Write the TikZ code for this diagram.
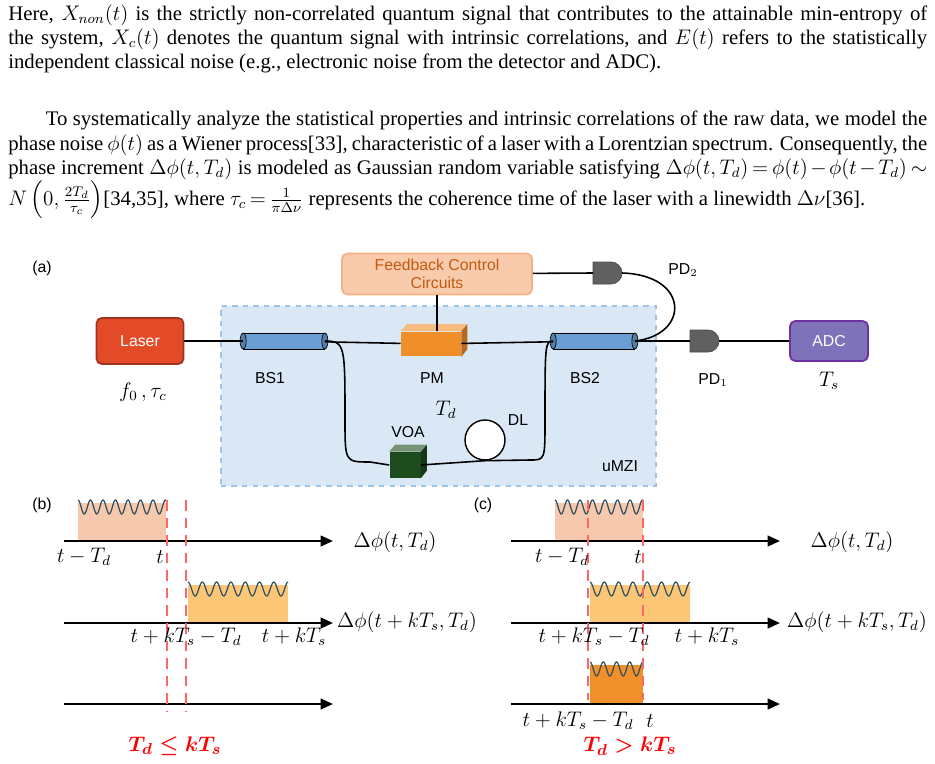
\documentclass[tikz,border=0pt]{standalone}
\usepackage{amsmath}
\usepackage{fontspec}
\setmainfont{Liberation Serif}
\newfontfamily\sansf{Liberation Sans}
\usetikzlibrary{positioning,arrows.meta}
\definecolor{fbfill}{HTML}{F8CBAD}
\definecolor{fbdraw}{HTML}{F4B183}
\definecolor{fbtext}{HTML}{C55A11}
\definecolor{mzifill}{HTML}{DAE8F5}
\definecolor{mzidraw}{HTML}{9DC3E6}
\definecolor{laserred}{HTML}{E24A28}
\definecolor{bsblue}{HTML}{6A9ED3}
\definecolor{pmorange}{HTML}{F08E2A}
\definecolor{voagreen}{HTML}{1D4B1D}
\definecolor{adcfill}{HTML}{7E72BA}
\definecolor{adcdraw}{HTML}{7030A0}
\definecolor{boxlight}{HTML}{F6C8AE}
\definecolor{boxmid}{HTML}{FBC676}
\definecolor{boxdark}{HTML}{F0902A}
\definecolor{wavec}{HTML}{2F4F5F}
\newcommand\nohyph{\hyphenpenalty=10000\relax\exhyphenpenalty=10000\relax
  \thickmuskip=3mu plus 2mu\relax\medmuskip=2mu plus 1mu\relax}
% detector: flat left, round right
\newcommand\detector[3]{%
  \coordinate (#1) at (#2,#3);
  \draw[fill=gray!75!black,draw=black!70] (#2-18,#3-11) -- (#2,#3-11)
    arc[start angle=-90,end angle=90,radius=11] -- (#2-18,#3+11) -- cycle;}
% beam splitter cylinder
\newcommand\splitter[3]{%
  \node[bs] (#1) at (#2,#3) {};
  \draw[fill=bsblue!80!black] (#1.west) ellipse [x radius=0.06cm, y radius=0.16cm];
  \draw[fill=bsblue!80!black] (#1.east) ellipse [x radius=0.06cm, y radius=0.16cm];}
% cuboid with top and side faces
\newcommand\cuboid[4]{%
  \fill[#4!60!white] (#1.north west) -- ++(6,-7) -- ++(\pgfkeysvalueof{/tikz/cubew},0) -- (#1.north east) -- cycle;
  \fill[#4!75!black] (#1.north east) -- ++(6,-7) -- ++(0,\pgfkeysvalueof{/tikz/cubeh}) -- (#1.south east) -- cycle;}
\pgfkeyssetvalue{/tikz/cubew}{0}
\pgfkeyssetvalue{/tikz/cubeh}{0}
\newcommand\wave[4]{\draw[wavy] plot[domain=#1:#2,samples=120] (\x,{#3+7-7*cos(360/#4*(\x-#1))});}
\begin{document}
\begin{tikzpicture}[x=0.02cm,y=-0.02cm,
    lbl/.style={font=\sansf\fontsize{9}{10}\selectfont},
    para/.style={anchor=north west,inner sep=0pt,text width=18.38cm,align=justify,
      font=\fontsize{11.8}{13.7}\selectfont},
    fiber/.style={line width=0.9pt},
    bs/.style={draw,fill=bsblue,minimum width=1.62cm,minimum height=0.32cm,inner sep=0pt},
    axis/.style={line width=1.3pt,-{Triangle[length=7pt,width=6pt]}},
    cut/.style={red!60,dashed,line width=1pt,dash pattern=on 6pt off 4pt},
    wavy/.style={wavec,line width=0.7pt},
    mathl/.style={font=\fontsize{11.5}{13}\selectfont},
    cond/.style={text=red,font=\bfseries\fontsize{13}{14}\selectfont}]
  \useasboundingbox (0,0) rectangle (935,763);
  % text above the figure
  \node[para] (par1) at (8,4) {\nohyph Here, $X_{non}(t)$ is the strictly non-correlated quantum signal that contributes to the attainable min-entropy of the system, $X_c(t)$ denotes the quantum signal with intrinsic correlations, and $E(t)$ refers to the statistically independent classical noise (e.g., electronic noise from the detector and ADC).};
  \node[para] (par2) at (8,111) {\nohyph\hspace*{0.75cm}To systematically analyze the statistical properties and intrinsic correlations of the raw data, we model the phase noise $\phi(t)$ as a Wiener process[33], characteristic of a laser with a Lorentzian spectrum. Consequently, the phase increment $\Delta\phi(t,T_d)$ is modeled as Gaussian random variable satisfying $\Delta\phi(t,T_d)=\phi(t)-\phi(t-T_d)\sim N\left(0,\frac{2T_d}{\tau_c}\right)$[34,35], where $\tau_c=\frac{1}{\pi\Delta\nu}$ represents the coherence time of the laser with a linewidth $\Delta\nu$[36].};
  % (a) setup
  \node[lbl] (la) at (42,268) {(a)};
  \node[draw=mzidraw,fill=mzifill,dashed,line width=1pt,minimum width=8.7cm,minimum height=3.6cm,anchor=north west] (mzi) at (220,305) {};
  \node[lbl] (umzi) at (620,466) {uMZI};
  \node[draw=fbdraw,fill=fbfill,line width=1pt,rounded corners=3pt,text=fbtext,lbl,align=center,minimum width=3.8cm,minimum height=0.76cm] (fb) at (437,274) {Feedback Control\\Circuits};
  \node[draw=laserred!70!black,fill=laserred,rounded corners=3pt,line width=1pt,text=white,lbl,minimum width=1.74cm,minimum height=0.92cm] (laser) at (140,341) {Laser};
  \node[draw=adcdraw,fill=adcfill,rounded corners=3pt,line width=1pt,text=white,lbl,minimum width=1.56cm,minimum height=0.8cm] (adc) at (829,341) {ADC};
  \splitter{bs1}{284}{341}
  \splitter{bs2}{594}{341}
  \node[fill=pmorange,minimum width=1.2cm,minimum height=0.5cm,inner sep=0pt] (pm) at (431,344) {};
  \pgfkeyssetvalue{/tikz/cubew}{60}\pgfkeyssetvalue{/tikz/cubeh}{25}
  \cuboid{pm}{0}{0}{pmorange}
  \node[fill=voagreen,minimum width=0.62cm,minimum height=0.52cm,inner sep=0pt] (voa) at (405,465) {};
  \pgfkeyssetvalue{/tikz/cubew}{31}\pgfkeyssetvalue{/tikz/cubeh}{26}
  \cuboid{voa}{0}{0}{voagreen}
  \node[draw,fill=white,circle,minimum size=0.8cm,inner sep=0pt,line width=0.8pt] (dl) at (485,440) {};
  \detector{pd1}{708}{341}
  \detector{pd2}{611}{273}
  \draw[fiber] (laser) -- (bs1);
  \draw[fiber] (bs1) -- (pm) -- (bs2);
  \draw[fiber] (bs2.east) -- ([xshift=-0.36cm]pd1);
  \draw[fiber] ([xshift=0.22cm]pd1) -- (adc);
  \draw[fiber] (fb) -- ([xshift=-0.36cm]pd2);
  \draw[fiber] (fb.south) -- (pm.north -| fb.south);
  \draw[fiber] ([xshift=0.22cm]pd2) .. controls (690,275) and (690,335) .. (bs2.east);
  \draw[fiber] (bs1.east) .. controls (345,341) and (345,345) .. (345,420)
    .. controls (345,462) .. (370,462) -- (voa.west);
  \draw[fiber] (voa.east) -- (dl.south) -- (530,460)
    .. controls (545,460) .. (545,420) .. controls (545,345) and (545,341) .. (bs2.west);
  \node[lbl] (bs1l) at (270,378) {BS1};
  \node[lbl] (pml) at (432,378) {PM};
  \node[lbl] (bs2l) at (585,378) {BS2};
  \node[lbl] (pd1l) at (713,380) {PD$_1$};
  \node[lbl] (pd2l) at (683,270) {PD$_2$};
  \node[lbl] (voal) at (408,432) {VOA};
  \node[lbl] (dll) at (518,420) {DL};
  \node[mathl] (tdl) at (446,410) {$T_d$};
  \node[mathl] (tsl) at (829,381) {$T_s$};
  \node[mathl] (f0l) at (143,392) {$f_0\,,\tau_c$};
  % (b) timing for Td <= kTs
  \node[lbl] (lb) at (42,505) {(b)};
  \fill[boxlight] (78,503) rectangle (166,541);
  \wave{78}{166}{500}{12.5}
  \fill[boxmid] (188,585) rectangle (288,623);
  \wave{188}{288}{582}{14.3}
  \foreach \n/\y in {b1/541,b2/623,b3/704}{
    \coordinate (\n s) at (64,\y); \coordinate (\n e) at (333,\y);
    \draw[axis] (\n s) -- (\n e);}
  \coordinate (cbt) at (167,500); \coordinate (cbb) at (167,712);
  \draw[cut] (cbt) -- (cbb);
  \coordinate (cbt2) at (186,500); \coordinate (cbb2) at (186,712);
  \draw[cut] (cbt2) -- (cbb2);
  \node[mathl] (b1a) at (84,557) {$t-T_d$};
  \node[mathl] (b1b) at (160,557) {$t$};
  \node[mathl] (b1c) at (395,542) {$\Delta\phi(t,T_d)$};
  \node[mathl] (b2a) at (186,637) {$t+kT_s-T_d$};
  \node[mathl] (b2b) at (294,637) {$t+kT_s$};
  \node[mathl] (b2c) at (407,622) {$\Delta\phi(t+kT_s,T_d)$};
  \node[cond] (bc) at (175,746) {$\boldsymbol{T_d\le kT_s}$};
  % (c) timing for Td > kTs
  \node[lbl] (lc) at (483,505) {(c)};
  \fill[boxlight] (555,503) rectangle (643,541);
  \wave{555}{643}{500}{12.5}
  \fill[boxmid] (590,585) rectangle (690,623);
  \wave{590}{690}{582}{14.3}
  \fill[boxdark] (590,665) rectangle (643,704);
  \wave{590}{643}{662}{13.25}
  \foreach \n/\y in {c1/541,c2/623,c3/704}{
    \coordinate (\n s) at (511,\y); \coordinate (\n e) at (780,\y);
    \draw[axis] (\n s) -- (\n e);}
  \coordinate (cct) at (588,500); \coordinate (ccb) at (588,700);
  \draw[cut] (cct) -- (ccb);
  \coordinate (cct2) at (643,500); \coordinate (ccb2) at (643,700);
  \draw[cut] (cct2) -- (ccb2);
  \node[mathl] (c1a) at (562,557) {$t-T_d$};
  \node[mathl] (c1b) at (638,557) {$t$};
  \node[mathl] (c1c) at (852,542) {$\Delta\phi(t,T_d)$};
  \node[mathl] (c2a) at (594,637) {$t+kT_s-T_d$};
  \node[mathl] (c2b) at (707,637) {$t+kT_s$};
  \node[mathl] (c2c) at (857,622) {$\Delta\phi(t+kT_s,T_d)$};
  \node[mathl] (c3a) at (578,721) {$t+kT_s-T_d$};
  \node[mathl] (c3b) at (650,721) {$t$};
  \node[cond] (cc) at (630,746) {$\boldsymbol{T_d>kT_s}$};
\end{tikzpicture}
\end{document}
